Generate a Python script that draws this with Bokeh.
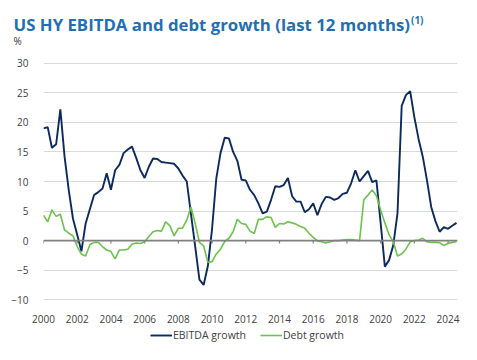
from bokeh.plotting import figure
from bokeh.layouts import column
from bokeh.models import (Range1d, FixedTicker, Label, Legend, LegendItem,
                          ColumnDataSource, Span)
from bokeh.embed import file_html
from bokeh.resources import INLINE

# ---------------- data (quarterly, 2000Q1 .. 2024Q3) ----------------
start_year = 2000
ebitda_growth = [
    19.0, 19.2, 15.7, 16.3,
    22.2, 14.2, 8.5, 3.7,
    1.0, -1.8, 2.9, 5.3,
    7.7, 8.2, 8.8, 11.4,
    8.6, 11.9, 12.8, 14.8,
    15.4, 15.9, 14.0, 11.9,
    10.6, 12.5, 13.9, 13.8,
    13.3, 13.2, 13.1, 13.0,
    12.2, 11.0, 10.0, 4.5,
    -1.0, -6.6, -7.5, -4.3,
    2.0, 10.5, 14.8, 17.4,
    17.3, 15.0, 13.5, 10.3,
    10.2, 8.6, 7.7, 6.3,
    4.6, 4.9, 6.9, 9.2,
    9.1, 9.4, 10.6, 7.5,
    6.6, 6.6, 4.8, 5.3,
    6.3, 4.3, 6.2, 7.4,
    7.3, 6.9, 7.2, 7.9,
    8.1, 9.7, 11.9, 10.0,
    10.9, 11.8, 9.9, 10.2,
    3.0, -4.4, -3.3, -0.8,
    4.6, 22.8, 24.6, 25.3,
    20.9, 17.2, 14.2, 10.2,
    5.7, 3.3, 1.5, 2.3,
    2.0, 2.5, 3.0,
]
debt_growth = [
    4.3, 3.2, 5.2, 4.1,
    4.45, 1.8, 1.25, 0.8,
    -1.0, -2.3, -2.6, -0.7,
    -0.3, -0.3, -1.0, -1.6,
    -1.85, -3.1, -1.6, -1.6,
    -1.45, -0.6, -0.4, -0.5,
    -0.2, 0.7, 1.5, 1.7,
    1.6, 3.2, 2.5, 0.8,
    2.1, 2.1, 3.5, 5.7,
    2.9, -0.3, -0.9, -3.65,
    -3.55, -2.25, -1.45, -0.15,
    0.4, 1.5, 3.6, 2.9,
    2.75, 1.6, 1.2, 3.6,
    3.6, 4.05, 3.9, 2.25,
    2.9, 2.8, 3.2, 3.0,
    2.75, 2.4, 2.1, 1.25,
    0.55, -0.05, -0.2, -0.4,
    -0.2, 0.0, 0.0, 0.1,
    0.2, 0.2, 0.1, 0.0,
    6.9, 7.7, 8.55, 7.6,
    5.2, 3.0, 1.0, -0.2,
    -2.6, -2.25, -1.45, -0.2,
    0.0, 0.1, 0.4, -0.2,
    -0.3, -0.3, -0.35, -0.85,
    -0.5, -0.3, -0.2,
]
x_ticks = [2000, 2002, 2004, 2006, 2008, 2010, 2012, 2014, 2016, 2018, 2020, 2022, 2024]
y_ticks = [-10, -5, 0, 5, 10, 15, 20, 25, 30]
title_text = "US HY EBITDA and debt growth (last 12 months)"
title_sup = "(1)"
unit_text = "%"
series_names = ["EBITDA growth", "Debt growth"]

dates = [start_year + 0.25 * i for i in range(len(ebitda_growth))]

NAVY = "#0b2a5e"
GREEN = "#6cc24a"
TXT = "#404040"
TITLE_C = "#1f6fb2"
FONT = "Open Sans"

W = 477
HEAD_H = 49
MAIN_H = 276
FOOT_H = 360 - HEAD_H - MAIN_H


def blank(height, y_top):
    f = figure(width=W, height=height, output_backend="svg", toolbar_location=None,
               x_axis_type=None, y_axis_type=None,
               x_range=Range1d(0, W), y_range=Range1d(y_top + height, y_top),
               min_border=0, title=None)
    f.frame_align = False
    f.outline_line_color = None
    f.grid.visible = False
    return f


# ---------------- header (title, superscript, unit) ----------------
head = blank(HEAD_H, 0)
head.add_layout(Label(x=13, y=24, text=title_text, text_font=FONT,
                      text_font_style="bold", text_font_size="16.8px",
                      text_color=TITLE_C, text_baseline="alphabetic"))
head.add_layout(Label(x=410.5, y=19.5, text=title_sup, text_font=FONT,
                      text_font_style="bold", text_font_size="10px",
                      text_color=TITLE_C, text_baseline="alphabetic"))
head.add_layout(Label(x=13, y=40.3, text=unit_text, text_font=FONT,
                      text_font_size="10px", text_color="#333333",
                      text_baseline="alphabetic"))

# ---------------- main chart ----------------
p = figure(width=W, height=MAIN_H, output_backend="svg", toolbar_location=None,
           x_range=Range1d(2000, 2024.56), y_range=Range1d(-10.3, 30.3),
           min_border_left=43, min_border_right=20, min_border_top=61 - HEAD_H,
           min_border_bottom=MAIN_H - (61 - HEAD_H) - 241, title=None)
p.frame_align = False
p.outline_line_color = None
p.background_fill_color = "white"
p.border_fill_color = "white"

p.xaxis.ticker = FixedTicker(ticks=x_ticks)
p.yaxis.ticker = FixedTicker(ticks=y_ticks)
for ax in (p.xaxis, p.yaxis):
    ax.axis_line_color = None
    ax.major_tick_line_color = None
    ax.minor_tick_line_color = None
    ax.major_label_text_font = FONT
    ax.major_label_text_font_size = "10px"
    ax.major_label_text_color = TXT
p.yaxis.major_label_standoff = 9
p.xaxis.major_label_standoff = 7

p.xgrid.grid_line_color = None
p.ygrid.grid_line_color = "#d9d9d9"
p.ygrid.grid_line_width = 1

p.add_layout(Span(location=0, dimension="width", line_color="#808080", line_width=1.6))
p.segment(x0=x_ticks, y0=[0] * len(x_ticks), x1=x_ticks, y1=[-0.5] * len(x_ticks),
          line_color="#808080", line_width=1.2)

src = ColumnDataSource(dict(x=dates, e=ebitda_growth, d=debt_growth))
p.line("x", "e", source=src, line_color=NAVY, line_width=1.9)
p.line("x", "d", source=src, line_color=GREEN, line_width=1.6)

# ---------------- footer (legend; its line renderers fall outside the footer's range) ----------------
foot = blank(FOOT_H, HEAD_H + MAIN_H)
k_e = foot.line("x", "e", source=src, line_color=NAVY, line_width=1.9)
k_d = foot.line("x", "d", source=src, line_color=GREEN, line_width=1.6)
legend = Legend(items=[LegendItem(label=series_names[0], renderers=[k_e]),
                       LegendItem(label=series_names[1], renderers=[k_d])],
                orientation="horizontal", location=(150, FOOT_H - 17),
                glyph_width=22, glyph_height=12, label_height=12,
                label_standoff=1, spacing=14, padding=0, margin=0,
                border_line_color=None, background_fill_alpha=0,
                label_text_font=FONT, label_text_font_size="10.5px",
                label_text_color=TXT)
foot.add_layout(legend)

layout = column(head, p, foot, spacing=0)
open("out.html", "w").write(file_html(layout, INLINE))
